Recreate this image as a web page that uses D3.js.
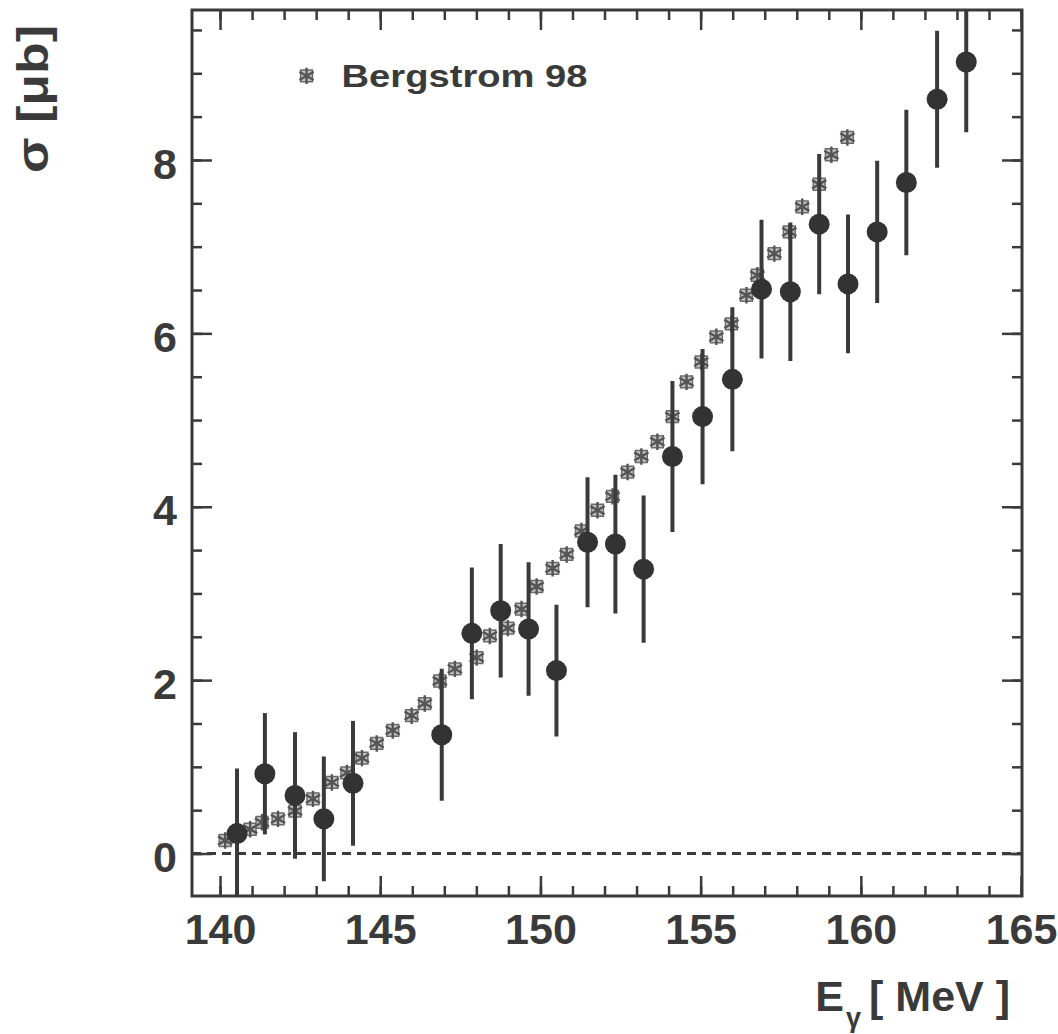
<!DOCTYPE html>
<html>
<head>
<meta charset="utf-8">
<script src="https://cdn.jsdelivr.net/npm/d3@7"></script>
<style>
  html, body { margin: 0; padding: 0; background: #fff; }
  svg { display: block; }
  text { font-family: "Liberation Sans", Arial, Helvetica, sans-serif; font-weight: bold; fill: #3a3a3a; }
</style>
</head>
<body>
<svg id="chart" width="1058" height="1034"></svg>
<script>
// ---- data ----
const energy = [140.53, 141.40, 142.34, 143.24, 144.15, 146.92, 147.86, 148.76, 149.63, 150.50,
                151.47, 152.34, 153.22, 154.12, 155.06, 155.99, 156.90, 157.80, 158.70, 159.60,
                160.51, 161.42, 162.38, 163.29];
const sigma = [0.23, 0.92, 0.67, 0.40, 0.81, 1.37, 2.54, 2.80, 2.59, 2.11,
               3.59, 3.57, 3.28, 4.58, 5.04, 5.47, 6.51, 6.48, 7.26, 6.57,
               7.17, 7.74, 8.70, 9.13];
const sigmaErr = [0.75, 0.70, 0.73, 0.72, 0.72, 0.76, 0.76, 0.77, 0.77, 0.76,
                  0.75, 0.80, 0.85, 0.87, 0.78, 0.83, 0.80, 0.80, 0.81, 0.80,
                  0.82, 0.84, 0.79, 0.81];

const bergE = [140.16, 140.53, 140.94, 141.31, 141.81, 142.34, 142.90, 143.49, 143.96, 144.43,
               144.89, 145.39, 145.98, 146.39, 146.86, 147.33, 148.01, 148.42, 148.98, 149.41,
               149.88, 150.38, 150.82, 151.28, 151.78, 152.25, 152.72, 153.15, 153.65, 154.12,
               154.56, 155.02, 155.49, 155.96, 156.43, 156.77, 157.30, 157.77, 158.17, 158.70,
               159.08, 159.58];
const bergS = [0.15, 0.21, 0.28, 0.36, 0.40, 0.49, 0.63, 0.82, 0.93, 1.10,
               1.27, 1.42, 1.59, 1.73, 1.99, 2.13, 2.26, 2.51, 2.60, 2.82,
               3.08, 3.29, 3.45, 3.72, 3.96, 4.12, 4.40, 4.58, 4.75, 5.04,
               5.44, 5.67, 5.96, 6.11, 6.44, 6.67, 6.92, 7.17, 7.46, 7.72,
               8.06, 8.26];

const xTicks = [140, 145, 150, 155, 160, 165];
const yTicks = [0, 2, 4, 6, 8];
const xMinor = d3.range(140, 166, 1);
const yMinor = d3.range(0, 9.6, 0.5);
const legendLabel = "Bergstrom 98";
const xLabelMain = "E";
const xLabelSub = "γ";
const xLabelUnit = "[ MeV ]";
const yLabel = "σ [μb]";

// ---- layout ----
const pL = 192, pR = 1022, pT = 10, pB = 896;
const ink = "#3a3a3a";

const x = d3.scaleLinear().domain([139.125, 165.03]).range([pL, pR]);
const y = d3.scaleLinear().domain([-0.49, 9.73]).range([pB, pT]);

const svg = d3.select("#chart");
svg.append("rect").attr("width", 1058).attr("height", 1034).attr("fill", "#fff");

svg.append("defs").append("clipPath").attr("id", "plotclip")
  .append("rect").attr("x", pL).attr("y", pT).attr("width", pR - pL).attr("height", pB - pT);

// ---- axes: ticks inside on all four sides ----
function styleAxis(g) {
  g.select(".domain").remove();
  g.selectAll(".tick line").attr("stroke", ink).attr("stroke-width", 2.5);
}
function styleLabels(g) {
  g.selectAll(".tick text").attr("font-size", 43).attr("fill", ink)
    .attr("font-family", "Liberation Sans, Arial, sans-serif").attr("font-weight", "bold");
}
// bottom
svg.append("g").attr("transform", `translate(0,${pB})`)
  .call(d3.axisBottom(x).tickValues(xMinor).tickSize(-10).tickFormat(""))
  .call(styleAxis);
svg.append("g").attr("transform", `translate(0,${pB})`)
  .call(d3.axisBottom(x).tickValues(xTicks).tickSize(-20).tickPadding(17).tickFormat(d3.format("d")))
  .call(styleAxis).call(styleLabels);
// top
svg.append("g").attr("transform", `translate(0,${pT})`)
  .call(d3.axisTop(x).tickValues(xMinor).tickSize(-10).tickFormat(""))
  .call(styleAxis);
svg.append("g").attr("transform", `translate(0,${pT})`)
  .call(d3.axisTop(x).tickValues(xTicks).tickSize(-20).tickFormat(""))
  .call(styleAxis);
// left
svg.append("g").attr("transform", `translate(${pL},0)`)
  .call(d3.axisLeft(y).tickValues(yMinor).tickSize(-10).tickFormat(""))
  .call(styleAxis);
svg.append("g").attr("transform", `translate(${pL},0)`)
  .call(d3.axisLeft(y).tickValues(yTicks).tickSize(-20).tickPadding(15).tickFormat(d3.format("d")))
  .call(styleAxis).call(styleLabels)
  .call(g => g.selectAll(".tick text").attr("dy", "0.42em"));
// right
svg.append("g").attr("transform", `translate(${pR},0)`)
  .call(d3.axisRight(y).tickValues(yMinor).tickSize(-10).tickFormat(""))
  .call(styleAxis);
svg.append("g").attr("transform", `translate(${pR},0)`)
  .call(d3.axisRight(y).tickValues(yTicks).tickSize(-20).tickFormat(""))
  .call(styleAxis);

// frame
svg.append("rect").attr("x", pL).attr("y", pT).attr("width", pR - pL).attr("height", pB - pT)
  .attr("fill", "none").attr("stroke", ink).attr("stroke-width", 3);

// zero dashed line
svg.append("line").attr("x1", pL).attr("x2", pR).attr("y1", y(0)).attr("y2", y(0))
  .attr("stroke", ink).attr("stroke-width", 3).attr("stroke-dasharray", "9,6");

const plot = svg.append("g").attr("clip-path", "url(#plotclip)");

// Bergstrom 98 markers
const asterisk = d3.symbol().type(d3.symbolAsterisk).size(190);
const square = d3.symbol().type(d3.symbolSquare).size(140);
const berg = plot.append("g").selectAll("g").data(bergE).join("g")
  .attr("transform", (d, i) => `translate(${x(d)},${y(bergS[i])})`);
berg.append("path").attr("d", square).attr("fill", "#c4c4c4").attr("stroke", "#6a6a6a").attr("stroke-width", 1.5);
berg.append("path").attr("d", asterisk).attr("fill", "none").attr("stroke", "#555").attr("stroke-width", 2.4);

// error bars + data points
plot.append("g").selectAll("line").data(energy).join("line")
  .attr("x1", d => x(d)).attr("x2", d => x(d))
  .attr("y1", (d, i) => y(sigma[i] - sigmaErr[i]))
  .attr("y2", (d, i) => y(sigma[i] + sigmaErr[i]))
  .attr("stroke", ink).attr("stroke-width", 4);
plot.append("g").selectAll("circle").data(energy).join("circle")
  .attr("cx", d => x(d)).attr("cy", (d, i) => y(sigma[i])).attr("r", 10.5)
  .attr("fill", "#333");

// legend
const lg = svg.append("g").attr("transform", `translate(${x(142.7)},${y(8.97)})`);
lg.append("path").attr("d", square).attr("fill", "#c4c4c4").attr("stroke", "#6a6a6a").attr("stroke-width", 1.5);
lg.append("path").attr("d", asterisk).attr("fill", "none").attr("stroke", "#555").attr("stroke-width", 2.4);
lg.append("text").attr("x", 35).attr("y", 11).attr("font-size", 31)
  .attr("textLength", 246).attr("lengthAdjust", "spacingAndGlyphs").text(legendLabel);

// x axis label
const xl = svg.append("text").attr("x", 1010).attr("y", 1011).attr("font-size", 43)
  .attr("text-anchor", "end");
xl.append("tspan").text(xLabelMain);
xl.append("tspan").attr("font-size", 27).attr("dy", 16).attr("dx", 2).text(xLabelSub);
xl.append("tspan").attr("dy", -16).attr("dx", 8).text(xLabelUnit);

// y axis label
svg.append("text").attr("transform", "translate(48,99) rotate(-90)")
  .attr("text-anchor", "middle").attr("font-size", 44)
  .attr("textLength", 148).attr("lengthAdjust", "spacingAndGlyphs")
  .text(yLabel);
</script>
</body>
</html>
